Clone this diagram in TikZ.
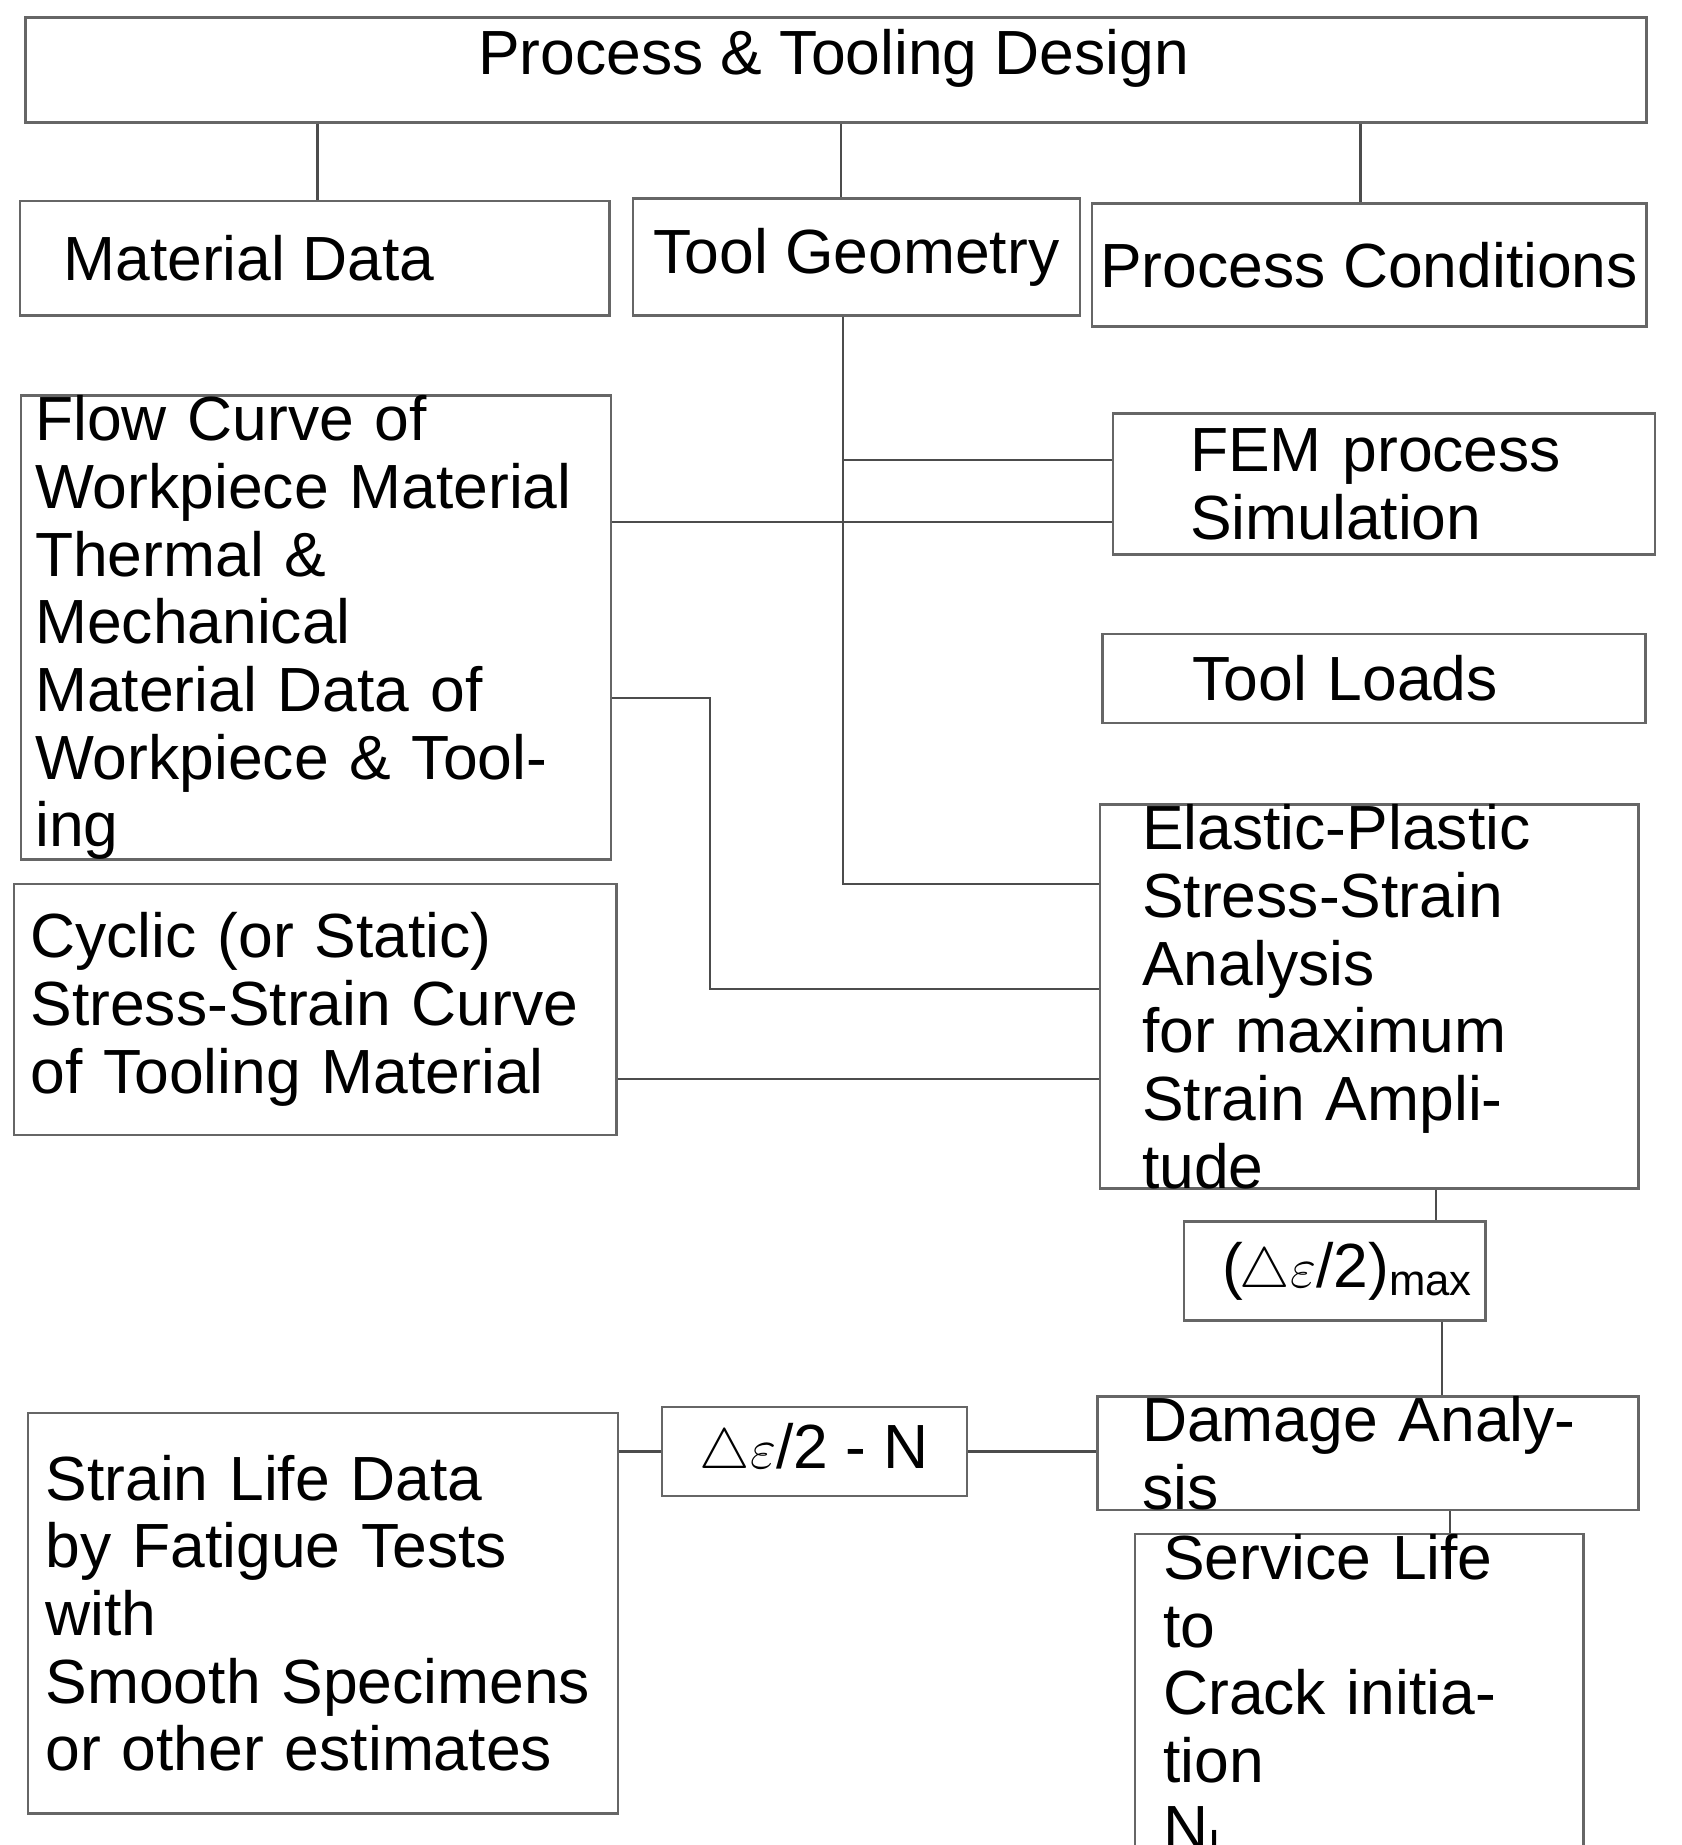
\documentclass[tikz,border=0pt]{standalone}
\usepackage{fontspec}
\setmainfont{Liberation Sans}
\usetikzlibrary{positioning}
\def\u{0.0125cm}
\tikzset{
  txt/.style={inner sep=0pt, align=left, font=\fontsize{19}{20.6}\selectfont},
  box/.style={txt, draw=black!60, line width=0.8pt},
  cbox/.style={box, align=center},
  wire/.style={draw=black!70, line width=0.7pt}
}
\begin{document}
\begin{tikzpicture}[x=\u, y=-\u]
  \useasboundingbox (0,0) rectangle (1440,1580);
  % boxes
  \node[cbox, minimum width=1388*\u, minimum height=90*\u] (design) at (716,60) {};
  \node[txt] (title) at (714,50) {Process \& Tooling Design};
  \node[cbox, minimum width=505*\u, minimum height=98*\u] (mat) at (269.5,221) {\hspace*{-40pt}Material Data};
  \node[cbox, minimum width=383*\u, minimum height=100*\u] (geom) at (733.5,220) {Tool Geometry};
  \node[cbox, minimum width=475*\u, minimum height=105*\u] (cond) at (1172.5,227) {Process Conditions};
  \node[box, anchor=west, text width=481*\u, inner xsep=12*\u, minimum height=379*\u] (flow) at (17,537.5)
    {Flow Curve of\\Workpiece Material\\Thermal \&\\Mechanical\\Material Data of\\Workpiece \& Tooling};
  \node[box, anchor=west, text width=332*\u, inner xsep=66*\u, minimum height=121*\u] (fem) at (952,414.5)
    {FEM process\\Simulation};
  \node[box, anchor=west, text width=311*\u, inner xsep=77*\u, minimum height=76*\u] (loads) at (943,581)
    {Tool Loads};
  \node[box, anchor=west, text width=389*\u, inner xsep=36*\u, minimum height=293*\u] (epa) at (941,853.5)
    {Elastic-Plastic\\Stress-Strain\\Analysis\\for maximum\\Strain Amplitude};
  \node[box, anchor=west, text width=488*\u, inner xsep=14*\u, minimum height=215*\u] (cyc) at (11,864.5)
    {Cyclic (or Static)\\Stress-Strain Curve\\of Tooling Material};
  \node[cbox, minimum width=258*\u, minimum height=85*\u] (amp) at (1143,1088.5)
    {\hspace*{8pt}(\hspace{-1pt}$\triangle\varepsilon$/2)$_{\mathrm{max}}$};
  \node[cbox, minimum width=261*\u, minimum height=76*\u] (en) at (697.5,1243)
    {$\triangle\varepsilon$/2 - N};
  \node[box, anchor=west, text width=387*\u, inner xsep=38*\u, minimum height=83*\u] (dam) at (939,1244.5)
    {Damage Analysis};
  \node[box, anchor=west, text width=475*\u, inner xsep=15*\u, minimum height=343*\u] (slife) at (23,1381.5)
    {Strain Life Data\\by Fatigue Tests\\with\\Smooth Specimens\\or other estimates};
  \node[box, anchor=west, text width=336*\u, inner xsep=24*\u, minimum height=207*\u] (serv) at (971,1453.5)
    {Service Life to\\Crack initiation\\N$_{\mathrm{I}}$};
  % connectors
  \draw[wire] (design.south -| 272,0) -- (mat.north -| 272,0);
  \draw[wire] (design.south -| 720,0) -- (geom.north -| 720,0);
  \draw[wire] (design.south -| 1165,0) -- (cond.north -| 1165,0);
  \coordinate (gfem) at (722,394);
  \draw[wire] (geom.south -| 722,0) -- (722,757) -- (epa.west |- 0,757);
  \draw[wire] (gfem) -- (fem.west |- gfem);
  \draw[wire] (flow.east |- 0,447) -- (fem.west |- 0,447);
  \draw[wire] (flow.east |- 0,598) -- (608,598) -- (608,847) -- (epa.west |- 0,847);
  \draw[wire] (cyc.east |- 0,924) -- (epa.west |- 0,924);
  \draw[wire] (epa.south -| 1230,0) -- (amp.north -| 1230,0);
  \draw[wire] (amp.south -| 1235,0) -- (dam.north -| 1235,0);
  \draw[wire] (en.west) -- (slife.east |- en.west);
  \draw[wire] (en.east) -- (dam.west |- en.east);
  \draw[wire] (dam.south -| 1242,0) -- (serv.north -| 1242,0);
\end{tikzpicture}
\end{document}
